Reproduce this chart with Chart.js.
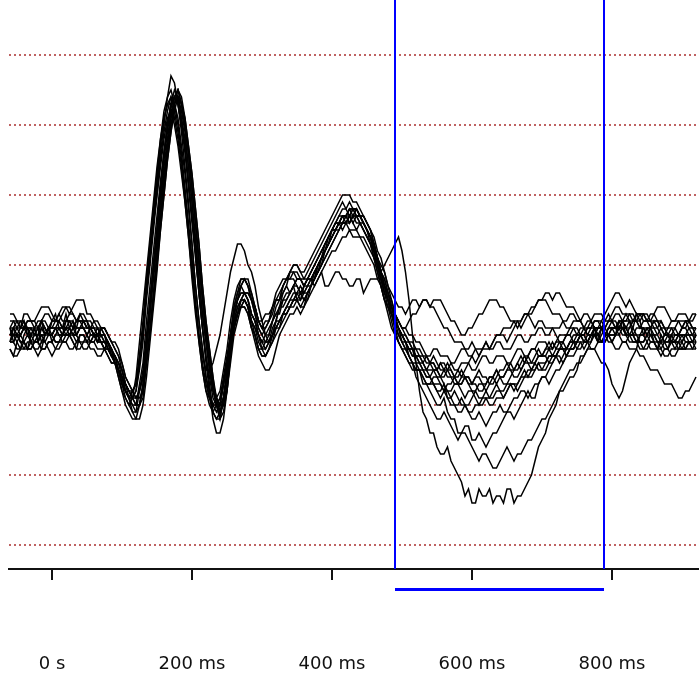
<!DOCTYPE html>
<html>
<head>
<meta charset="utf-8">
<title>ERP butterfly plot</title>
<script src="https://cdn.jsdelivr.net/npm/chart.js@4.4.1/dist/chart.umd.min.js"></script>
<style>
  html, body { margin: 0; padding: 0; background: #fff; }
  canvas { display: block; }
</style>
</head>
<body>
<canvas id="erpChart" width="699" height="675"></canvas>
<script>
// sample times (ms), 5 ms steps
const times = [
  -60,-55,-50,-45,-40,-35,-30,-25,-20,-15,-10,-5,0,5,10,15,20,25,30,35,
  40,45,50,55,60,65,70,75,80,85,90,95,100,105,110,115,120,125,130,135,
  140,145,150,155,160,165,170,175,180,185,190,195,200,205,210,215,220,225,230,235,
  240,245,250,255,260,265,270,275,280,285,290,295,300,305,310,315,320,325,330,335,
  340,345,350,355,360,365,370,375,380,385,390,395,400,405,410,415,420,425,430,435,
  440,445,450,455,460,465,470,475,480,485,490,495,500,505,510,515,520,525,530,535,
  540,545,550,555,560,565,570,575,580,585,590,595,600,605,610,615,620,625,630,635,
  640,645,650,655,660,665,670,675,680,685,690,695,700,705,710,715,720,725,730,735,
  740,745,750,755,760,765,770,775,780,785,790,795,800,805,810,815,820,825,830,835,
  840,845,850,855,860,865,870,875,880,885,890,895,900,905,910,915,920
];

// one array per channel (grid step = 10)
const trace01 = [
  1,-1,0,1,2,0,1,1,-1,1,0,0,2,3,1,1,3,1,2,0,
  1,2,2,0,0,-1,1,0,-2,-3,-4,-5,-7,-9,-10,-11,-11,-8,-5,0,
  5,10,15,21,26,30,33,35,34,31,27,22,17,12,6,1,-3,-7,-11,-12,
  -12,-9,-5,-1,2,4,5,5,4,1,0,-2,-2,-1,-1,0,2,4,4,5,
  6,7,5,5,7,8,8,7,8,9,7,7,8,9,9,8,8,7,7,8,
  8,6,7,8,8,8,9,10,11,12,13,14,12,9,5,0,-4,-8,-11,-12,
  -14,-14,-16,-17,-17,-16,-18,-19,-20,-21,-23,-22,-24,-24,-22,-23,-23,-22,-24,-23,
  -23,-24,-22,-22,-24,-23,-23,-22,-21,-20,-18,-16,-15,-14,-12,-11,-10,-8,-8,-7,
  -6,-6,-5,-3,-3,-2,-1,1,0,-1,-1,0,1,0,2,2,0,0,1,3,
  2,0,1,1,-1,-2,0,-1,-2,0,-1,0,1,1,0,-1,-1
];
const trace02 = [
  -1,1,0,0,1,1,-1,-1,0,2,1,0,0,1,1,0,2,2,1,1,
  3,3,2,1,1,1,0,-1,-1,-2,-3,-5,-7,-8,-9,-8,-7,-3,2,8,
  13,18,23,28,32,34,35,33,30,26,21,16,11,5,0,-4,-7,-9,-10,-9,
  -8,-5,-2,2,5,7,8,8,7,5,4,2,1,2,2,4,5,5,7,8,
  8,9,9,8,8,9,10,11,12,13,14,15,16,17,18,19,18,17,18,17,
  16,15,14,13,11,9,7,5,4,3,1,-1,-2,-3,-4,-4,-6,-7,-8,-9,
  -10,-11,-12,-12,-11,-12,-13,-14,-15,-14,-14,-15,-16,-17,-18,-17,-17,-18,-19,-19,
  -18,-17,-16,-17,-18,-17,-17,-16,-15,-15,-14,-13,-12,-12,-11,-10,-9,-8,-7,-6,
  -5,-5,-4,-4,-3,-2,-2,-2,-1,1,0,0,-1,0,1,1,0,1,2,2,
  1,1,0,1,2,2,1,0,0,-1,-1,0,0,0,1,1,0
];
const trace03 = [
  2,2,1,1,3,3,2,2,1,-1,0,1,1,2,2,1,2,3,3,2,
  2,1,1,1,0,0,1,1,0,-1,-1,-2,-4,-6,-7,-8,-9,-9,-8,-4,
  1,6,12,17,22,27,31,34,35,33,30,26,21,16,10,5,0,-4,-7,-10,
  -11,-10,-7,-3,1,3,4,5,4,2,1,0,-2,-2,-1,0,1,1,3,4,
  4,5,6,6,5,5,7,8,9,11,12,13,15,15,16,17,17,18,18,18,
  17,16,15,14,12,10,8,7,5,3,2,1,-1,-1,-3,-4,-5,-5,-7,-7,
  -8,-9,-10,-10,-9,-11,-12,-12,-14,-14,-13,-13,-15,-15,-14,-15,-16,-15,-14,-14,
  -13,-12,-11,-11,-12,-11,-10,-9,-8,-9,-9,-7,-6,-6,-5,-4,-3,-3,-4,-3,
  -2,-2,-1,-1,-2,-1,0,0,1,1,0,1,1,1,2,1,1,2,0,-1,
  -1,-1,0,1,1,0,-1,-2,-2,-1,-1,-1,0,0,-1,-2,-2
];
const trace04 = [
  0,0,-1,-2,0,1,1,0,1,2,0,1,2,2,3,2,2,2,1,0,
  1,1,0,-1,0,0,-1,-2,-2,-2,-3,-5,-6,-7,-9,-10,-11,-10,-7,-2,
  3,9,14,19,24,28,32,33,34,32,29,24,19,14,8,3,-1,-5,-8,-10,
  -12,-9,-6,-2,3,5,7,8,8,6,4,2,1,0,0,2,3,3,5,6,
  6,7,8,8,7,7,8,9,9,10,12,13,14,15,15,16,17,16,17,18,
  17,17,16,15,13,11,9,8,6,4,2,1,0,-1,-2,-2,-4,-5,-5,-5,
  -6,-7,-8,-8,-7,-9,-10,-10,-11,-11,-10,-11,-12,-12,-11,-12,-13,-12,-11,-11,
  -10,-11,-11,-10,-9,-9,-8,-8,-9,-8,-7,-7,-6,-6,-7,-6,-5,-5,-4,-3,
  -3,-3,-2,-1,-1,-1,0,0,-1,0,1,2,2,1,1,2,3,2,2,3,
  3,3,2,2,1,1,2,1,0,0,1,2,2,2,1,0,0
];
const trace05 = [
  -2,-3,-1,0,-1,-2,0,1,-1,-2,0,1,-1,0,1,0,0,1,0,-1,
  0,0,-1,-1,0,0,-1,-2,-1,-2,-4,-5,-7,-8,-9,-9,-8,-5,-1,5,
  10,15,20,25,29,32,34,33,31,27,23,18,13,7,2,-2,-6,-8,-10,-11,
  -10,-7,-4,-1,2,3,4,4,3,1,0,-2,-3,-3,-2,-1,1,2,3,3,
  4,5,5,4,4,6,7,8,10,11,12,13,14,15,16,16,16,17,16,15,
  16,16,15,14,12,10,8,6,4,2,0,-1,-2,-2,-3,-4,-4,-4,-5,-6,
  -6,-5,-5,-6,-7,-8,-8,-7,-7,-8,-9,-8,-8,-9,-10,-9,-9,-10,-10,-9,
  -9,-9,-8,-7,-8,-7,-6,-5,-6,-5,-4,-5,-5,-4,-3,-3,-3,-2,-2,-3,
  -2,-1,-1,0,0,-1,-2,-2,-3,-4,-4,-5,-7,-8,-9,-8,-6,-4,-3,-2,
  0,0,1,1,0,-1,-1,0,0,-1,-2,-1,-1,0,0,0,1
];
const trace06 = [
  1,2,2,1,1,0,0,0,1,2,2,1,1,1,0,0,1,0,1,2,
  2,2,1,1,2,2,1,0,-1,-3,-4,-6,-8,-9,-10,-9,-6,-1,4,9,
  14,19,24,28,31,33,33,31,28,24,19,14,8,3,-1,-5,-8,-9,-10,-10,
  -9,-7,-4,0,4,6,7,6,6,5,3,1,0,1,2,3,5,6,7,8,
  9,9,8,8,7,8,9,10,11,12,13,14,15,16,17,18,18,19,18,17,
  17,16,15,14,12,10,8,7,5,3,2,1,0,-1,-1,-1,-2,-3,-3,-3,
  -4,-5,-5,-4,-4,-5,-6,-7,-7,-6,-6,-7,-8,-8,-7,-7,-8,-7,-6,-5,
  -6,-7,-7,-6,-5,-4,-5,-4,-3,-4,-4,-3,-3,-2,-2,-3,-2,-1,-1,-2,
  -1,-1,0,1,1,0,1,1,0,1,2,3,2,1,1,2,1,1,2,2,
  1,2,2,1,2,1,0,-1,-1,0,0,0,1,2,2,1,1
];
const trace07 = [
  0,1,0,-1,-1,-2,-2,-1,-1,0,0,1,0,-1,-1,0,1,1,0,0,
  1,1,0,-1,-1,0,-1,-2,-2,-3,-3,-4,-5,-7,-8,-9,-10,-10,-8,-4,
  0,5,10,15,20,25,29,33,35,34,31,27,23,18,13,7,2,-2,-6,-9,
  -10,-9,-6,-2,2,4,5,5,4,2,0,-2,-3,-3,-2,-1,0,1,2,3,
  4,5,5,4,5,6,7,9,10,11,12,14,15,15,16,17,17,16,17,17,
  16,15,14,13,11,9,7,5,3,1,0,-1,-2,-3,-4,-5,-5,-5,-6,-7,
  -7,-6,-6,-7,-8,-7,-7,-6,-5,-6,-5,-4,-3,-4,-3,-2,-1,-2,-1,0,
  0,0,-1,0,1,2,2,3,3,2,1,2,2,1,1,1,0,-1,-1,0,
  0,-1,-1,0,0,1,1,2,2,1,1,2,2,3,3,2,2,3,3,2,
  2,3,3,2,2,2,1,0,1,1,0,0,1,2,2,1,1
];
const trace08 = [
  -1,-1,-2,-2,-1,0,-1,-2,-2,-1,-1,0,0,-1,-1,0,0,0,-1,-2,
  0,0,-1,0,0,-1,-1,-1,-2,-3,-3,-4,-6,-8,-9,-10,-10,-7,-4,2,
  7,12,17,22,26,30,33,34,33,30,26,21,16,11,6,1,-3,-6,-9,-10,
  -10,-7,-4,0,3,5,6,6,5,3,2,0,-1,-1,0,2,3,4,5,5,
  6,7,7,6,7,8,8,9,10,11,12,13,14,15,16,16,17,18,17,17,
  17,16,15,14,12,10,8,6,5,3,2,1,0,0,-1,-2,-3,-3,-4,-5,
  -4,-4,-5,-6,-6,-5,-5,-6,-7,-7,-6,-6,-7,-6,-5,-6,-6,-7,-7,-6,
  -5,-5,-4,-5,-5,-4,-3,-4,-3,-2,-2,-3,-3,-2,-1,-2,-1,-1,-2,-2,
  -1,0,0,0,-1,-1,0,1,-1,-1,0,-1,-1,-2,-2,-1,-1,-2,-2,-2,
  -3,-3,-4,-5,-5,-5,-6,-7,-7,-7,-8,-9,-9,-8,-8,-7,-6
];
const trace09 = [
  3,3,2,1,1,2,2,2,3,4,4,4,3,2,2,3,4,4,3,2,
  3,2,2,2,1,0,1,1,0,-1,-2,-3,-5,-7,-8,-8,-7,-4,0,6,
  11,16,21,26,30,34,37,36,33,29,24,19,13,7,2,-2,-6,-9,-11,-12,
  -11,-9,-5,-1,3,5,7,8,7,5,4,2,2,3,3,4,6,7,8,8,
  9,10,10,9,9,10,11,12,13,14,15,16,17,18,19,20,20,20,19,19,
  18,17,16,15,13,11,9,7,5,3,1,0,-1,-2,-2,-2,-3,-4,-4,-3,
  -4,-4,-5,-4,-5,-5,-4,-5,-5,-4,-4,-4,-5,-5,-4,-3,-3,-4,-4,-3,
  -3,-3,-4,-4,-3,-2,-2,-3,-3,-2,-2,-1,-1,-1,-2,-2,-1,0,0,0,
  1,1,0,0,1,2,2,1,1,1,0,0,1,1,0,-1,-1,0,0,0,
  -1,-1,0,0,-1,-2,-2,-1,-1,-1,0,0,-1,-2,-2,-2,-1
];
const trace10 = [
  1,1,2,2,1,2,2,1,1,2,3,3,2,2,3,4,4,3,4,5,
  5,5,3,3,2,1,1,1,0,-1,-2,-3,-4,-6,-7,-8,-9,-8,-6,-1,
  5,10,15,20,25,29,33,34,34,31,28,24,19,13,8,3,-1,-5,-8,-9,
  -10,-7,-4,0,4,6,8,8,7,6,4,2,1,1,2,4,5,5,6,7,
  6,7,8,8,7,8,9,10,11,12,13,14,15,16,16,17,17,18,18,18,
  17,16,15,13,12,11,9,7,6,5,3,2,1,1,0,0,-1,-1,-2,-3,
  -3,-2,-2,-3,-3,-3,-4,-4,-3,-2,-2,-3,-3,-2,-2,-2,-1,-2,-2,-1,
  -1,-2,-2,-2,-1,0,0,-1,-1,0,0,1,1,0,0,1,1,1,2,2,
  3,3,2,2,1,1,2,3,3,3,2,2,3,4,4,3,3,3,2,2,
  3,3,2,2,3,4,4,4,3,2,2,3,3,3,2,2,3
];
const trace11 = [
  -1,0,0,-1,-1,-2,-2,-1,-1,-2,-2,-1,-1,0,0,-1,-1,0,0,0,
  -1,-1,0,1,0,-1,-1,-1,-2,-3,-3,-4,-5,-7,-8,-9,-10,-10,-9,-4,
  1,6,11,16,21,26,30,33,34,33,30,26,21,16,11,6,1,-3,-7,-9,
  -11,-9,-6,-2,1,3,4,5,4,2,1,-1,-2,-3,-2,0,1,2,3,3,
  4,4,5,6,5,6,7,8,10,11,12,13,14,15,16,17,17,17,18,18,
  17,16,15,14,13,11,10,9,7,6,5,4,4,3,4,5,5,4,5,5,
  4,5,5,5,4,3,2,2,1,0,0,1,1,2,3,3,4,5,5,5,
  4,4,3,2,2,1,2,3,3,3,4,5,5,6,6,5,6,6,5,4,
  4,4,3,2,3,3,2,1,1,2,3,4,5,6,6,5,4,5,4,3,
  3,2,2,3,3,2,2,1,1,2,2,2,1,1,2,3,3
];
const trace12 = [
  0,0,1,2,2,1,1,0,0,1,1,0,0,1,1,1,0,0,1,2,
  2,2,1,1,0,-1,0,0,-1,-3,-4,-5,-7,-8,-9,-9,-8,-4,1,7,
  12,17,22,27,31,33,34,32,29,25,20,15,10,4,-1,-5,-8,-10,-11,-10,
  -9,-6,-3,0,3,5,6,6,5,3,2,0,-1,0,1,2,4,5,7,8,
  8,8,7,6,6,7,8,9,10,11,13,14,15,16,16,15,16,17,17,16,
  16,15,14,13,12,11,9,7,6,4,3,2,1,1,2,3,3,4,5,5,
  4,4,3,2,1,1,0,-1,-1,-1,-2,-2,-1,-2,-3,-2,-2,-2,-1,0,
  0,1,1,1,2,2,1,2,3,4,4,5,5,5,4,3,3,3,2,1,
  1,2,2,2,1,0,0,1,1,1,0,1,2,2,1,0,0,0,-1,-1,
  0,0,-1,-2,-2,-2,-1,0,0,-1,-1,-2,-2,-1,-1,-1,0
];
const trace13 = [
  0,1,1,0,1,1,0,1,2,2,1,0,0,1,2,1,1,2,2,1,
  1,2,1,1,0,1,0,-1,-1,-2,-4,-5,-6,-8,-9,-8,-7,-3,1,6,
  11,16,20,24,28,31,32,30,27,23,19,14,9,4,0,-3,-5,-5,-4,-2,
  0,3,6,9,11,13,13,12,10,9,7,4,2,0,-1,0,2,4,6,7,
  9,10,10,9,8,8,9,10,11,12,13,14,15,16,17,17,16,15,15,15,
  14,13,12,11,10,8,7,5,4,3,2,1,0,-1,-2,-3,-3,-3,-4,-5,
  -5,-5,-6,-6,-5,-6,-6,-6,-7,-7,-6,-6,-7,-7,-8,-8,-7,-6,-6,-7,
  -6,-6,-5,-5,-6,-6,-5,-4,-4,-5,-4,-3,-3,-3,-4,-4,-3,-2,-2,-3,
  -2,-2,-1,0,0,-1,-1,0,0,-1,-1,0,0,0,1,1,0,-1,-1,-1,
  -2,-2,-1,0,0,0,1,1,0,-1,-1,-1,-2,-2,-1,-1,0
];
const trace14 = [
  -2,-3,-3,-2,-2,-1,-1,-2,-3,-2,-2,-1,-1,-2,-2,-1,-1,-2,-2,-1,
  -1,-2,-2,-1,-1,-2,-2,-2,-3,-4,-4,-5,-6,-8,-9,-11,-12,-12,-10,-6,
  -1,4,9,15,20,25,29,32,34,33,31,27,23,18,13,7,2,-2,-6,-10,
  -12,-11,-8,-4,0,2,4,4,3,1,-1,-3,-4,-5,-5,-4,-2,0,1,2,
  3,3,4,3,4,5,6,7,8,9,10,11,12,12,13,14,14,15,14,14,
  14,14,13,12,11,10,8,6,5,4,2,0,-1,-2,-3,-4,-5,-5,-6,-7,
  -7,-7,-8,-9,-8,-8,-9,-10,-10,-9,-10,-11,-11,-10,-10,-10,-9,-9,-8,-7,
  -8,-8,-7,-7,-7,-7,-6,-6,-5,-5,-5,-4,-4,-4,-3,-3,-3,-2,-2,-2,
  -1,-1,-2,-2,-1,0,0,0,1,1,0,0,-1,0,0,1,1,0,0,-1,
  -1,-2,-2,-1,-1,-2,-3,-2,-2,-3,-3,-2,-2,-2,-1,-1,-2
];
const trace15 = [
  -1,-1,0,-1,-2,-2,-1,0,0,0,-1,-2,-3,-2,-1,-1,0,0,-1,-2,
  -2,-1,-1,-2,-2,-3,-3,-2,-3,-4,-4,-5,-6,-7,-8,-9,-9,-8,-6,-2,
  3,8,13,18,23,27,31,34,35,33,30,26,21,16,10,5,0,-4,-7,-9,
  -11,-10,-8,-3,1,3,5,6,6,5,3,1,0,-1,-1,0,1,2,3,4,
  5,6,6,5,6,7,7,8,9,10,11,12,13,14,15,16,16,16,17,18,
  17,17,16,15,14,12,11,9,7,5,3,2,1,0,-1,-2,-2,-2,-3,-4,
  -4,-3,-4,-5,-5,-4,-5,-6,-6,-5,-6,-7,-7,-6,-6,-7,-7,-6,-6,-5,
  -6,-6,-5,-4,-5,-5,-4,-3,-4,-4,-3,-2,-3,-3,-2,-1,-2,-2,-1,0,
  0,1,1,0,0,1,1,2,2,2,1,0,0,0,1,2,2,2,1,0,
  0,1,1,0,0,-1,-1,-1,0,1,1,0,0,-1,-1,-1,0
];
const trace16 = [
  1,0,0,0,1,1,0,-1,-1,0,0,1,1,1,0,0,1,1,0,1,
  1,1,0,1,1,0,0,0,-1,-2,-4,-6,-8,-10,-11,-12,-12,-10,-7,-2,
  4,10,15,21,26,30,33,34,33,30,27,22,17,12,6,1,-4,-8,-12,-14,
  -14,-12,-8,-3,1,3,5,6,5,3,2,0,-1,-2,-1,1,2,2,3,4,
  5,5,6,7,6,6,7,8,9,10,11,12,13,14,15,16,16,17,16,17,
  17,16,15,14,13,11,9,8,6,4,3,1,0,-1,-2,-3,-3,-4,-5,-6,
  -6,-7,-7,-7,-8,-9,-9,-8,-9,-10,-10,-10,-9,-8,-9,-9,-8,-9,-9,-8,
  -8,-9,-8,-7,-7,-8,-7,-6,-6,-6,-5,-4,-5,-5,-4,-3,-3,-4,-3,-2,
  -2,-2,-1,0,-1,-1,0,0,-1,-1,0,1,1,1,2,2,1,0,0,1,
  1,1,0,-1,-1,-1,-2,-3,-3,-2,-2,-2,-1,0,0,0,-1
];

const traces = [trace01, trace02, trace03, trace04, trace05, trace06, trace07, trace08,
                trace09, trace10, trace11, trace12, trace13, trace14, trace15, trace16];

const gridLevels = [-30, -20, -10, 0, 10, 20, 30, 40];
const tickTimes = [0, 200, 400, 600, 800];
const windowMs = [490, 788];   // analysis window (blue)

// blue window lines + bar under the axis
const windowMarker = {
    id: 'windowMarker',
    afterDatasetsDraw(chart) {
        const { ctx, chartArea, scales } = chart;
        ctx.save();
        ctx.strokeStyle = '#0000ff';
        ctx.lineWidth = 2;
        ctx.beginPath();
        windowMs.forEach(ms => {
            const px = Math.round(scales.x.getPixelForValue(ms));
            ctx.moveTo(px, chartArea.top);
            ctx.lineTo(px, chartArea.bottom);
        });
        ctx.stroke();
        ctx.restore();
    },
    afterDraw(chart) {
        const { ctx, chartArea, scales } = chart;
        const x0 = Math.round(scales.x.getPixelForValue(windowMs[0]));
        const x1 = Math.round(scales.x.getPixelForValue(windowMs[1]));
        const y = Math.round(chartArea.bottom) + 20;
        ctx.save();
        ctx.strokeStyle = '#0000ff';
        ctx.lineWidth = 3;
        ctx.beginPath();
        ctx.moveTo(x0, y + 0.5);
        ctx.lineTo(x1, y + 0.5);
        ctx.stroke();
        ctx.restore();
    }
};

// no side/edge padding from the axes, the plot runs edge to edge
const noScalePadding = scale => {
    scale.paddingLeft = 0;
    scale.paddingRight = 0;
    scale.paddingTop = 0;
    scale.paddingBottom = 0;
};

const ctx = document.getElementById('erpChart').getContext('2d');

new Chart(ctx, {
    type: 'line',
    data: {
        datasets: traces.map((tr, i) => ({
            label: 'ch' + (i + 1),
            data: times.map((t, k) => ({ x: t, y: tr[k] })),
            borderColor: '#000',
            borderWidth: 1.5,
            pointRadius: 0,
            tension: 0,
            fill: false
        }))
    },
    options: {
        responsive: false,
        animation: false,
        devicePixelRatio: 1,
        layout: { padding: { left: 9, right: 0, top: 0, bottom: 1 } },
        plugins: {
            legend: { display: false },
            tooltip: { enabled: false }
        },
        scales: {
            x: {
                type: 'linear',
                position: 'bottom',
                min: -61.4,
                max: 924.3,
                afterBuildTicks: scale => { scale.ticks = tickTimes.map(v => ({ value: v })); },
                afterFit: noScalePadding,
                grid: { drawOnChartArea: false, drawTicks: true, tickLength: 11, color: '#111', lineWidth: 2 },
                border: { display: true, color: '#111', width: 2 },
                ticks: {
                    padding: 0,
                    color: '#111',
                    maxRotation: 0,
                    autoSkip: false,
                    font: { family: 'DejaVu Sans', size: 18, lineHeight: '18.8px' },
                    // labels sit well below the axis, under the blue bar
                    callback: v => ['', '', '', '', v === 0 ? '0 s' : v + ' ms']
                }
            },
            y: {
                min: -33.43,
                max: 47.86,
                afterBuildTicks: scale => { scale.ticks = gridLevels.map(v => ({ value: v })); },
                afterFit: noScalePadding,
                ticks: { display: false },
                grid: { drawTicks: false, color: 'rgba(170,45,45,0.75)', lineWidth: 2 },
                border: { display: false, dash: [2, 3] }
            }
        }
    },
    plugins: [windowMarker]
});
</script>
</body>
</html>
